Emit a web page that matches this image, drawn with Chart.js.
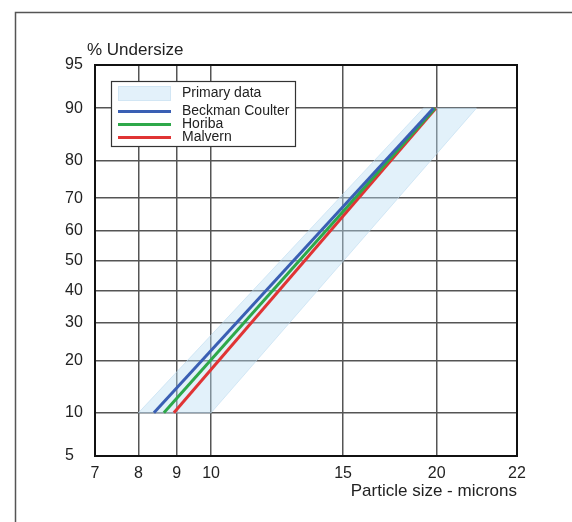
<!DOCTYPE html>
<html>
<head>
<meta charset="utf-8">
<title>Particle size distribution</title>
<script src="https://cdn.jsdelivr.net/npm/chart.js@4.4.1/dist/chart.umd.min.js"></script>
<style>
  html, body { margin: 0; padding: 0; background: #fff; }
</style>
</head>
<body>
<canvas id="psdChart" width="572" height="522"></canvas>
<script>
// Cumulative undersize (%) at each percentile, particle size in microns
const percentiles = [10, 90];
const beckmanCoulter = [8.39, 19.8];
const horiba = [8.65, 19.9];
const malvern = [8.92, 19.95];

// Primary data band: left and right edge sizes at the same percentiles
const bandLeft = [8.0, 19.2];
const bandRight = [10.0, 22.6];

// Axis ticks (right edge of the x axis is labelled 22 in the original)
const yTickValues = [5, 10, 20, 30, 40, 50, 60, 70, 80, 90, 95];
const xTickValues = [7, 8, 9, 10, 15, 20, 25.6];
const xTickLabels = ["7", "8", "9", "10", "15", "20", "22"];

const FONT = "'Liberation Sans', Arial, Helvetica, sans-serif";
const TEXT = "#222";

/**
 * Inverse normal CDF (Acklam's approximation), used for the probability axis
 */
function probit(p) {
  const a = [-39.69683028665376, 220.9460984245205, -275.9285104469687, 138.357751867269, -30.66479806614716, 2.506628277459239];
  const b = [-54.47609879822406, 161.5858368580409, -155.6989798598866, 66.80131188771972, -13.28068155288572];
  const c = [-0.007784894002430293, -0.3223964580411365, -2.400758277161838, -2.549732539343734, 4.374664141464968, 2.938163982698783];
  const d = [0.007784695709041462, 0.3224671290700398, 2.445134137142996, 3.754408661907416];
  const pLow = 0.02425;
  let q, r;
  if (p < pLow) {
    q = Math.sqrt(-2 * Math.log(p));
    return (((((c[0] * q + c[1]) * q + c[2]) * q + c[3]) * q + c[4]) * q + c[5]) /
      ((((d[0] * q + d[1]) * q + d[2]) * q + d[3]) * q + 1);
  }
  if (p > 1 - pLow) {
    q = Math.sqrt(-2 * Math.log(1 - p));
    return -(((((c[0] * q + c[1]) * q + c[2]) * q + c[3]) * q + c[4]) * q + c[5]) /
      ((((d[0] * q + d[1]) * q + d[2]) * q + d[3]) * q + 1);
  }
  q = p - 0.5;
  r = q * q;
  return (((((a[0] * r + a[1]) * r + a[2]) * r + a[3]) * r + a[4]) * r + a[5]) * q /
    (((((b[0] * r + b[1]) * r + b[2]) * r + b[3]) * r + b[4]) * r + 1);
}

function toPoints(sizes) {
  return sizes.map((s, i) => ({ x: s, y: probit(percentiles[i] / 100) }));
}

// closed outline of the band: up the left edge, back down the right edge
const bandPoints = toPoints(bandLeft)
  .concat(toPoints(bandRight).reverse())
  .concat(toPoints(bandLeft).slice(0, 1));

// Outer frame, y title and legend are drawn by hand
const decorations = {
  id: "decorations",
  beforeDraw(chart) {
    const ctx = chart.ctx;
    ctx.save();
    ctx.fillStyle = "#fff";
    ctx.fillRect(0, 0, chart.width, chart.height);
    ctx.strokeStyle = "#555";
    ctx.lineWidth = 1.5;
    ctx.strokeRect(15.5, 12.5, chart.width + 20, chart.height + 20);
    ctx.restore();
  },
  afterDraw(chart) {
    const ctx = chart.ctx;
    const area = chart.chartArea;
    ctx.save();

    // plot border
    ctx.strokeStyle = "#111";
    ctx.lineWidth = 2;
    ctx.strokeRect(area.left, area.top, area.right - area.left, area.bottom - area.top);

    // y axis title
    ctx.fillStyle = TEXT;
    ctx.font = "17px " + FONT;
    ctx.textBaseline = "middle";
    ctx.textAlign = "left";
    ctx.fillText("% Undersize", 87, 50);

    // legend box
    const box = { x: 111, y: 81, w: 184, h: 65 };
    ctx.fillStyle = "#fff";
    ctx.fillRect(box.x, box.y, box.w, box.h);
    ctx.strokeStyle = "#333";
    ctx.lineWidth = 1.2;
    ctx.strokeRect(box.x + 0.5, box.y + 0.5, box.w, box.h);

    const rows = [93, 111, 124, 137];
    ctx.font = "14px " + FONT;
    chart.data.datasets.forEach((ds, i) => {
      const y = rows[i];
      if (ds.fill) {
        ctx.fillStyle = "#e3f1fa";
        ctx.fillRect(118, y - 7, 53, 15);
        ctx.strokeStyle = "#d2e6f4";
        ctx.lineWidth = 1;
        ctx.strokeRect(118.5, y - 6.5, 52, 14);
      } else {
        ctx.strokeStyle = ds.borderColor;
        ctx.lineWidth = 3;
        ctx.beginPath();
        ctx.moveTo(118, y + 0.5);
        ctx.lineTo(171, y + 0.5);
        ctx.stroke();
      }
      ctx.fillStyle = TEXT;
      ctx.fillText(ds.label, 182, y);
    });
    ctx.restore();
  },
};

Chart.defaults.font.family = FONT;
Chart.defaults.color = TEXT;

new Chart(document.getElementById("psdChart"), {
  type: "line",
  data: {
    datasets: [
      {
        label: "Primary data",
        data: bandPoints,
        fill: "shape",
        backgroundColor: "rgba(186, 222, 244, 0.42)",
        borderColor: "rgba(190, 220, 240, 0.6)",
        borderWidth: 1,
        pointRadius: 0,
        order: 1,
      },
      {
        label: "Beckman Coulter",
        data: toPoints(beckmanCoulter),
        borderColor: "#3a5fb4",
        borderWidth: 3,
        pointRadius: 0,
        fill: false,
      },
      {
        label: "Horiba",
        data: toPoints(horiba),
        borderColor: "#2ea84a",
        borderWidth: 3,
        pointRadius: 0,
        fill: false,
      },
      {
        label: "Malvern",
        data: toPoints(malvern),
        borderColor: "#e03434",
        borderWidth: 3,
        pointRadius: 0,
        fill: false,
      },
    ],
  },
  options: {
    responsive: false,
    animation: false,
    devicePixelRatio: 1,
    layout: { padding: { left: 65, top: 65, right: 55, bottom: 20 } },
    plugins: {
      legend: { display: false },
      tooltip: { enabled: false },
    },
    scales: {
      x: {
        type: "logarithmic",
        min: xTickValues[0],
        max: xTickValues[xTickValues.length - 1],
        afterBuildTicks: (scale) => {
          scale.ticks = xTickValues.map((v) => ({ value: v }));
        },
        afterFit: (scale) => {
          scale.height = 46;
        },
        ticks: {
          autoSkip: false,
          maxRotation: 0,
          padding: 8,
          font: { size: 16 },
          color: TEXT,
          callback: (value, index) => xTickLabels[index],
        },
        grid: { color: "#555", lineWidth: 1.5, drawTicks: false },
        border: { display: false },
        title: {
          display: true,
          text: "Particle size - microns",
          align: "end",
          padding: 0,
          font: { size: 17 },
          color: TEXT,
        },
      },
      y: {
        type: "linear",
        min: probit(yTickValues[0] / 100),
        max: probit(yTickValues[yTickValues.length - 1] / 100),
        afterBuildTicks: (scale) => {
          scale.ticks = yTickValues.map((p) => ({ value: probit(p / 100) }));
        },
        afterFit: (scale) => {
          scale.width = 30;
        },
        ticks: {
          autoSkip: false,
          crossAlign: "far",
          font: { size: 16 },
          color: TEXT,
          callback: (value, index) => String(yTickValues[index]),
        },
        grid: { color: "#555", lineWidth: 1.5, drawTicks: false },
        border: { display: false },
      },
    },
  },
  plugins: [decorations],
});
</script>
</body>
</html>
